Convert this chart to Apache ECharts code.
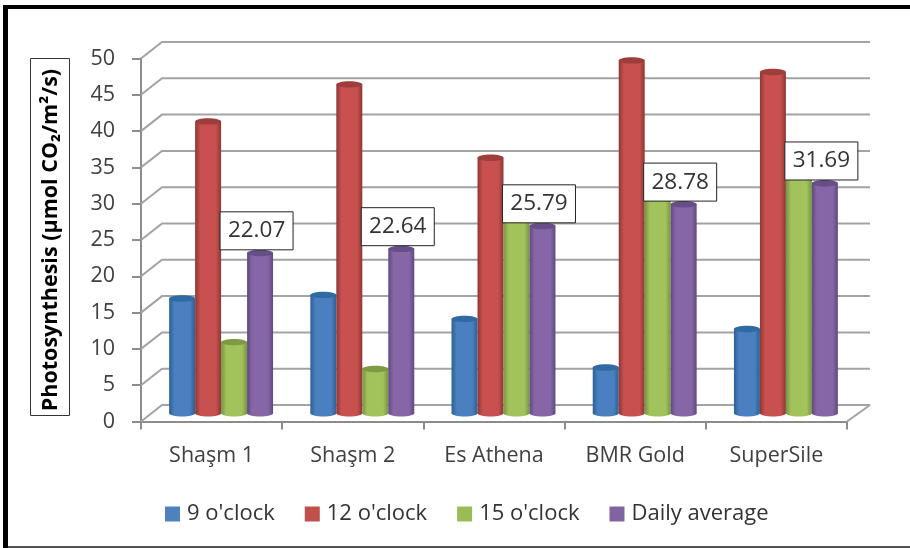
<!DOCTYPE html>
<html><head><meta charset="utf-8">
<style>html,body{margin:0;padding:0;background:#fff}#c{width:910px;height:548px}</style>
<script src="https://cdn.jsdelivr.net/npm/echarts@6/dist/echarts.min.js"></script>
</head><body><div id="c"></div>
<script>
const categories = ['Shaşm 1','Shaşm 2','Es Athena','BMR Gold','SuperSile'];
const nine = [15.8,16.3,13.0,6.3,11.6];
const twelve = [40.2,45.3,35.2,48.6,47.0];
const fifteen = [9.8,6.1,29.0,31.2,36.0];
const daily = [22.07,22.64,25.79,28.78,31.69];
const ticks = [0,5,10,15,20,25,30,35,40,45,50];
const axisTitle = 'Photosynthesis (µmol CO₂/m²/s)';
const FONT = '"Open Sans"';
const DX = 21, DY = 16.5;
const BAR = 0.184;
function wall(params, api){
  const v = api.value(0), c = params.coordSys, y = api.coord([0,v])[1];
  const kids = [{type:'polyline',shape:{points:[[c.x,y],[c.x+DX,y-DY],[c.x+c.width+DX+2,y-DY]]},
    style:{stroke:'#a3a3a3',lineWidth:2,fill:null}}];
  if(v===0) kids.push({type:'line',shape:{x1:c.x+c.width,y1:y,x2:c.x+c.width+DX+2,y2:y-DY},style:{stroke:'#a3a3a3',lineWidth:2}});
  return {type:'group',children:kids};
}
function cyl(idx,base,dark,top){
  return function(params,api){
    const i=api.value(0), v=api.value(1);
    const p=api.coord([i,v]), p0=api.coord([i,0]), bw=api.size([1,0])[0]*BAR;
    const cx=p[0]+DX/2+(idx-1.5)*bw-1, yt=p[1]-DY/2, yb=p0[1]-DY/2, rx=bw/2, ry=3.2;
    const grad={type:'linear',x:0,y:0,x2:1,y2:0,colorStops:[
      {offset:0,color:dark},{offset:.2,color:base},{offset:.8,color:base},{offset:1,color:dark}]};
    const kids=[
      {type:'ellipse',shape:{cx:cx,cy:yb,rx:rx,ry:ry},style:{fill:grad}},
      {type:'rect',shape:{x:cx-rx,y:yt,width:bw,height:yb-yt},style:{fill:grad}},
      {type:'ellipse',shape:{cx:cx,cy:yt,rx:rx,ry:ry},style:{fill:top}}
    ];
    return {type:'group',children:kids};
  };
}
function labelItem(params,api){
  const i=api.value(0), v=api.value(1);
  const p=api.coord([i,v]), bw=api.size([1,0])[0]*BAR;
  const cx=p[0]+DX/2+1.5*bw-1-3.5, b=p[1]-DY/2-3.2, w=73, h=38;
  return {type:'group',children:[
    {type:'rect',shape:{x:cx-w/2,y:b-h,width:w,height:h},style:{fill:'#fff',stroke:'#222',lineWidth:1}},
    {type:'text',style:{x:cx,y:b-h/2,text:v.toFixed(2),align:'center',verticalAlign:'middle',
      fill:'#333',font:'22.5px '+FONT}}
  ]};
}
const rows = a => a.map((v,i)=>[i,v]);
const chart = echarts.init(document.getElementById('c'),null,{renderer:'canvas'});
chart.setOption({
  animation:false,
  backgroundColor:'#fff',
  grid:{left:141,right:63,top:58.5,bottom:126.5},
  xAxis:{type:'category',data:categories,boundaryGap:true,
    axisLine:{lineStyle:{color:'#8c8c8c',width:2}},
    axisTick:{show:true,alignWithLabel:false,length:8,lineStyle:{color:'#8c8c8c',width:2}},
    axisLabel:{color:'#404040',fontFamily:FONT,fontSize:21.5,margin:23,interval:0}},
  yAxis:{type:'value',min:0,max:50,interval:5,
    splitLine:{show:false},
    axisLine:{show:true,lineStyle:{color:'#8c8c8c',width:2}},
    axisTick:{show:true,length:9,lineStyle:{color:'#8c8c8c',width:2}},
    axisLabel:{color:'#404040',fontFamily:FONT,fontSize:21.5,margin:26},
    name:axisTitle,nameLocation:'middle',nameRotate:90,nameGap:79,
    nameTextStyle:{color:'#000',fontFamily:FONT,fontWeight:'bold',fontSize:21.5}},
  legend:{left:160,top:498,icon:'rect',itemWidth:15,itemHeight:15,itemGap:30,
    data:["9 o'clock","12 o'clock","15 o'clock",'Daily average'],
    textStyle:{color:'#333',fontFamily:FONT,fontSize:22,padding:[0,0,0,2]}},
  tooltip:{show:false},
  series:[
    {type:'custom',name:'walls',data:ticks.map(v=>[v]),renderItem:wall,z:1,silent:true,encode:{y:0}},
    {type:'custom',name:"9 o'clock",data:rows(nine),itemStyle:{color:'#4f81bd'},z:2,encode:{x:0,y:1},
      renderItem:cyl(0,'#4a80bf','#2e5f94','#2f6aa3')},
    {type:'custom',name:"12 o'clock",data:rows(twelve),itemStyle:{color:'#c0504d'},z:3,encode:{x:0,y:1},
      renderItem:cyl(1,'#c8504e','#8a3836','#9e3d3b')},
    {type:'custom',name:"15 o'clock",data:rows(fifteen),itemStyle:{color:'#9bbb59'},z:4,encode:{x:0,y:1},
      renderItem:cyl(2,'#a2c35c','#769440','#7d9c42')},
    {type:'custom',name:'Daily average',data:rows(daily),itemStyle:{color:'#8064a2'},z:5,encode:{x:0,y:1},
      renderItem:cyl(3,'#8766a8','#5f4a7c','#664e88')},
    {type:'custom',name:'labels',data:rows(daily),renderItem:labelItem,z:10,silent:true,encode:{x:0,y:1}}
  ],
  graphic:[
    {type:'rect',z:100,silent:true,shape:{x:3,y:5,width:907,height:4},style:{fill:'#000'}},
    {type:'rect',z:100,silent:true,shape:{x:3,y:5,width:5,height:543},style:{fill:'#000'}},
    {type:'rect',z:100,silent:true,shape:{x:8,y:546,width:902,height:2},style:{fill:'#555'}},
    {type:'rect',z:100,silent:true,shape:{x:30.5,y:58.5,width:39,height:357},style:{fill:'none',stroke:'#333',lineWidth:1}}
  ]
});
</script></body></html>
